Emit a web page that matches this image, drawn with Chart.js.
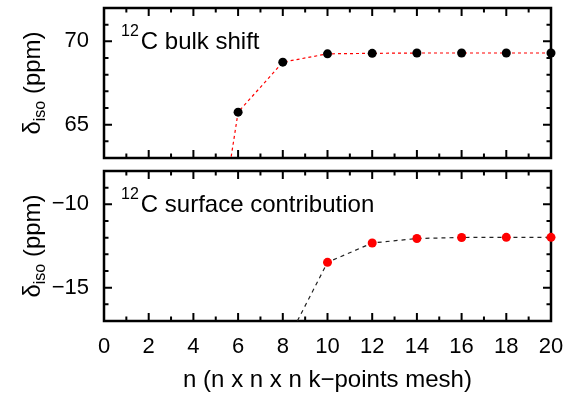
<!DOCTYPE html>
<html>
<head>
<meta charset="utf-8">
<script src="https://cdn.jsdelivr.net/npm/chart.js@4.4.1/dist/chart.umd.min.js"></script>
<style>
  body { margin: 0; background: #fff; }
  #wrap { position: relative; width: 565px; height: 395px; }
  canvas { position: absolute; left: 0; }
</style>
</head>
<body>
<div id="wrap">
  <canvas id="bulk" width="565" height="165" style="top:0"></canvas>
  <canvas id="surf" width="565" height="232" style="top:163px"></canvas>
</div>
<script>
// k-point mesh sizes and chemical shifts
const bulkMesh  = [4, 6, 8, 10, 12, 14, 16, 18, 20];
const bulkShift = [48.5, 65.75, 68.75, 69.25, 69.28, 69.3, 69.3, 69.3, 69.3];

const surfMesh = [8, 10, 12, 14, 16, 18, 20];
const surfContribution = [-18.7, -13.48, -12.32, -12.05, -11.99, -11.98, -11.98];

const xTicks = [0, 2, 4, 6, 8, 10, 12, 14, 16, 18, 20];
const bulkYTicks = [65, 70];
const surfYTicks = [-15, -10];

const FONT = '"Liberation Sans", Arial, Helvetica, sans-serif';

function toPoints(xs, ys) {
  return xs.map((x, i) => ({ x: x, y: ys[i] }));
}

// box with inward ticks on all four sides, plus the texts with sub/superscripts
const framePlugin = {
  id: 'frame',
  beforeDatasetsDraw(chart, args, opts) {
    const ctx = chart.ctx;
    const a = chart.chartArea;
    const xs = chart.scales.x, ys = chart.scales.y;
    ctx.save();
    ctx.strokeStyle = '#000';
    ctx.lineWidth = 2;
    ctx.beginPath();
    for (let v = xs.min; v <= xs.max; v += 1) {
      const px = xs.getPixelForValue(v);
      const len = (v % 2 === 0) ? 8 : 4.5;
      ctx.moveTo(px, a.bottom); ctx.lineTo(px, a.bottom - len);
      ctx.moveTo(px, a.top); ctx.lineTo(px, a.top + len);
    }
    for (let v = Math.ceil(ys.min); v <= ys.max; v += 1) {
      const py = ys.getPixelForValue(v);
      const len = (v % 5 === 0) ? 8 : 4.5;
      ctx.moveTo(a.left, py); ctx.lineTo(a.left + len, py);
      ctx.moveTo(a.right, py); ctx.lineTo(a.right - len, py);
    }
    ctx.stroke();
    ctx.lineWidth = 2.5;
    ctx.strokeRect(a.left, a.top, a.right - a.left, a.bottom - a.top);

    // panel label, e.g. 12C bulk shift
    ctx.fillStyle = '#000';
    ctx.textBaseline = 'alphabetic';
    ctx.textAlign = 'left';
    ctx.font = '16px ' + FONT;
    const lx = a.left + 17, ly = a.top + 41;
    ctx.fillText(opts.sup, lx, ly - 13);
    const sw = ctx.measureText(opts.sup).width;
    ctx.font = '24px ' + FONT;
    ctx.fillText(opts.label, lx + sw + 2, ly);

    // y title: delta_iso (ppm)
    const big = '24px ' + FONT, small = '16px ' + FONT;
    ctx.font = big;
    const w1 = ctx.measureText('δ').width;
    const w3 = ctx.measureText(' (ppm)').width;
    ctx.font = small;
    const w2 = ctx.measureText('iso').width;
    const total = w1 + w2 + w3;
    ctx.translate(40, (a.top + a.bottom) / 2);
    ctx.rotate(-Math.PI / 2);
    let x0 = -total / 2;
    ctx.font = big;
    ctx.fillText('δ', x0, 0);
    ctx.font = small;
    ctx.fillText('iso', x0 + w1, 5);
    ctx.font = big;
    ctx.fillText(' (ppm)', x0 + w1 + w2, 0);
    ctx.restore();
  }
};

function makeOptions(yMin, yMax, yTicks, showX, panel) {
  return {
    responsive: false,
    animation: false,
    layout: { padding: showX ? { top: 8, right: 14, bottom: 0, left: 0 }
                             : { top: 8, right: 14, bottom: 7, left: 0 } },
    plugins: { legend: { display: false }, tooltip: { enabled: false }, frame: panel },
    scales: {
      x: {
        type: 'linear', min: 0, max: 20,
        display: showX,
        afterBuildTicks: s => { s.ticks = xTicks.map(v => ({ value: v })); },
        afterFit: s => {
          s.height = showX ? 74 : 0;
          s.paddingLeft = 0; s.paddingRight = 0;
        },
        grid: { display: false, drawTicks: false },
        border: { display: false },
        ticks: { padding: 13, color: '#000', font: { family: FONT, size: 22 } },
        title: { display: true, text: 'n (n x n x n k\u2212points mesh)', color: '#000',
                 padding: { top: 0, bottom: 0 }, font: { family: FONT, size: 24 } }
      },
      y: {
        type: 'linear', min: yMin, max: yMax,
        afterBuildTicks: s => { s.ticks = yTicks.map(v => ({ value: v })); },
        afterFit: s => {
          s.width = 104;
          s.paddingTop = 0; s.paddingBottom = 0;
        },
        grid: { display: false, drawTicks: false },
        border: { display: false },
        ticks: { padding: 15, color: '#000', font: { family: FONT, size: 22 },
                 callback: v => String(v).replace('-', '\u2212') }
      }
    }
  };
}

new Chart(document.getElementById('bulk'), {
  type: 'line',
  data: {
    datasets: [{
      data: toPoints(bulkMesh, bulkShift),
      borderColor: '#ff0000', borderWidth: 1.2, borderDash: [3, 3],
      pointBackgroundColor: '#000', pointBorderWidth: 0, pointRadius: 4.5,
      clip: { left: 0, top: 0, right: 8, bottom: 0 }
    }]
  },
  options: makeOptions(63, 72, bulkYTicks, false, { sup: '12', label: 'C bulk shift' }),
  plugins: [framePlugin]
});

new Chart(document.getElementById('surf'), {
  type: 'line',
  data: {
    datasets: [{
      data: toPoints(surfMesh, surfContribution),
      borderColor: '#222', borderWidth: 1.2, borderDash: [4, 4],
      pointBackgroundColor: '#ff0000', pointBorderWidth: 0, pointRadius: 4.5,
      clip: { left: 0, top: 0, right: 8, bottom: 0 }
    }]
  },
  options: makeOptions(-17, -8, surfYTicks, true, { sup: '12', label: 'C surface contribution' }),
  plugins: [framePlugin]
});
</script>
</body>
</html>
